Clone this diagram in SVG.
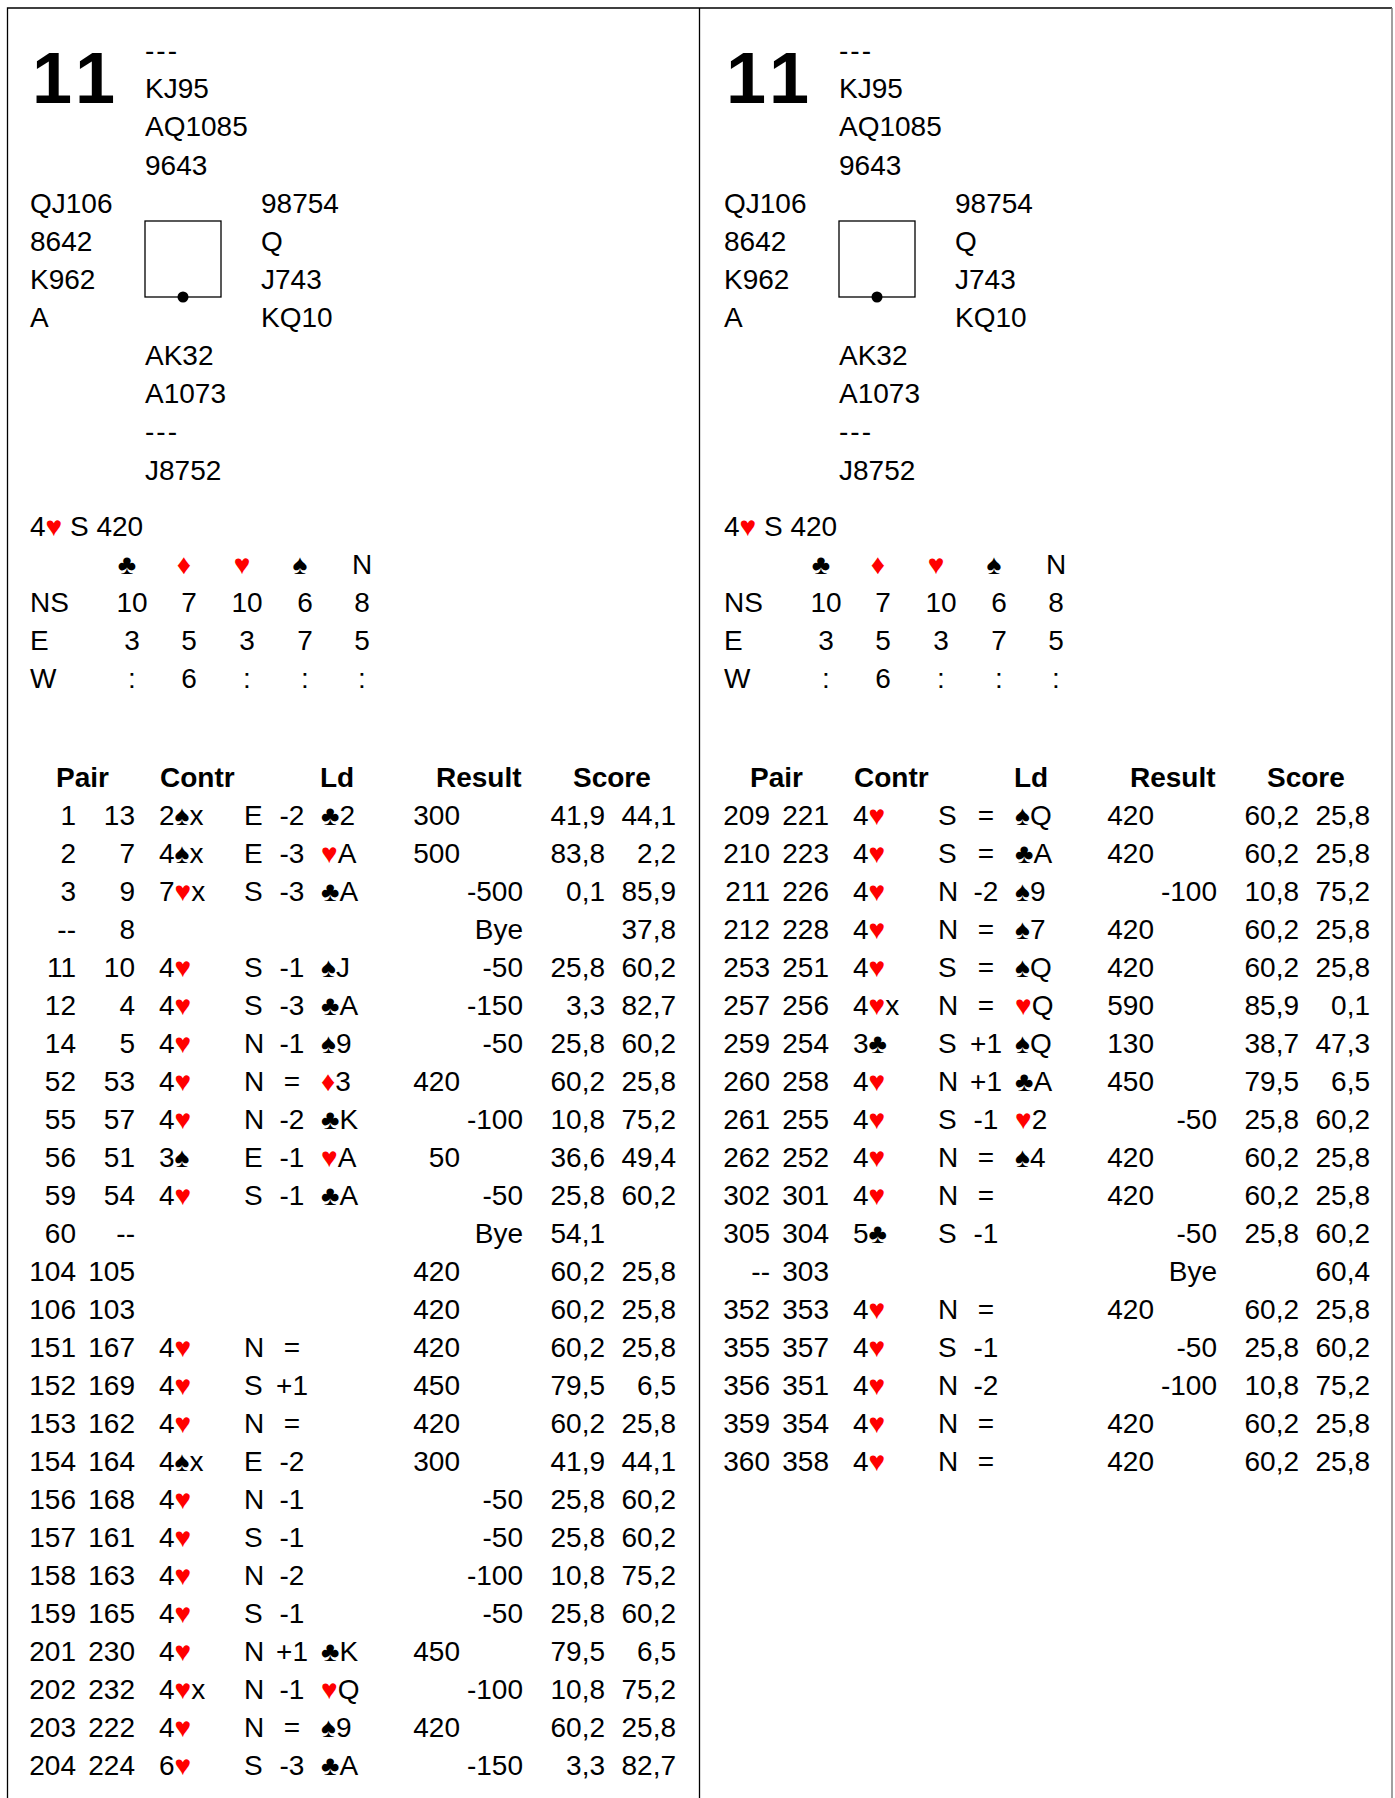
<svg xmlns="http://www.w3.org/2000/svg" width="1395" height="1798" viewBox="0 0 1395 1798">
<style>
text{font-family:"Liberation Sans",Arial,sans-serif;font-size:28px;fill:#000}
.big{font-size:72px;font-weight:bold;letter-spacing:7px}
.dash{letter-spacing:2px}
.hd{font-weight:bold}
.e{text-anchor:end}
.m{text-anchor:middle}
.red{fill:#ff0000}
.frame{stroke:#000;stroke-width:1.3;fill:none}
</style>
<rect width="1395" height="1798" fill="#fff"/>
<g id="frame">
<path class="frame" d="M7.5,1798 V8 H1392"/>
<line x1="1392" y1="8" x2="1392" y2="1798" stroke="#808080" stroke-width="1.5"/>
<line x1="699.5" y1="8" x2="699.5" y2="1798" stroke="#000" stroke-width="1.3"/>
</g>

<g id="deal-left">
<text class="big" x="32" y="103">11</text>
<text class="dash" x="145" y="60">---</text>
<text x="145" y="98">KJ95</text>
<text x="145" y="136">AQ1085</text>
<text x="145" y="175">9643</text>
<text x="30" y="213">QJ106</text>
<text x="30" y="251">8642</text>
<text x="30" y="289">K962</text>
<text x="30" y="327">A</text>
<text x="261" y="213">98754</text>
<text x="261" y="251">Q</text>
<text x="261" y="289">J743</text>
<text x="261" y="327">KQ10</text>
<rect x="145" y="221" width="76" height="76" fill="none" stroke="#000" stroke-width="1.3"/>
<circle cx="183" cy="297" r="5.5" fill="#000"/>
<text x="145" y="365">AK32</text>
<text x="145" y="403">A1073</text>
<text class="dash" x="145" y="441">---</text>
<text x="145" y="480">J8752</text>
<text x="30" y="536">4<tspan class="red">♥</tspan> S 420</text>
<text class="m" x="127" y="574">♣</text><text class="m red" x="184" y="574">♦</text><text class="m red" x="242" y="574">♥</text><text class="m" x="300" y="574">♠</text><text class="m" x="362" y="574">N</text>
<text x="30" y="612">NS</text><text class="m" x="132" y="612">10</text><text class="m" x="189" y="612">7</text><text class="m" x="247" y="612">10</text><text class="m" x="305" y="612">6</text><text class="m" x="362" y="612">8</text>
<text x="30" y="650">E</text><text class="m" x="132" y="650">3</text><text class="m" x="189" y="650">5</text><text class="m" x="247" y="650">3</text><text class="m" x="305" y="650">7</text><text class="m" x="362" y="650">5</text>
<text x="30" y="688">W</text><text class="m" x="132" y="688">:</text><text class="m" x="189" y="688">6</text><text class="m" x="247" y="688">:</text><text class="m" x="305" y="688">:</text><text class="m" x="362" y="688">:</text>
</g>

<g id="deal-right">
<text class="big" x="726" y="103">11</text>
<text class="dash" x="839" y="60">---</text>
<text x="839" y="98">KJ95</text>
<text x="839" y="136">AQ1085</text>
<text x="839" y="175">9643</text>
<text x="724" y="213">QJ106</text>
<text x="724" y="251">8642</text>
<text x="724" y="289">K962</text>
<text x="724" y="327">A</text>
<text x="955" y="213">98754</text>
<text x="955" y="251">Q</text>
<text x="955" y="289">J743</text>
<text x="955" y="327">KQ10</text>
<rect x="839" y="221" width="76" height="76" fill="none" stroke="#000" stroke-width="1.3"/>
<circle cx="877" cy="297" r="5.5" fill="#000"/>
<text x="839" y="365">AK32</text>
<text x="839" y="403">A1073</text>
<text class="dash" x="839" y="441">---</text>
<text x="839" y="480">J8752</text>
<text x="724" y="536">4<tspan class="red">♥</tspan> S 420</text>
<text class="m" x="821" y="574">♣</text><text class="m red" x="878" y="574">♦</text><text class="m red" x="936" y="574">♥</text><text class="m" x="994" y="574">♠</text><text class="m" x="1056" y="574">N</text>
<text x="724" y="612">NS</text><text class="m" x="826" y="612">10</text><text class="m" x="883" y="612">7</text><text class="m" x="941" y="612">10</text><text class="m" x="999" y="612">6</text><text class="m" x="1056" y="612">8</text>
<text x="724" y="650">E</text><text class="m" x="826" y="650">3</text><text class="m" x="883" y="650">5</text><text class="m" x="941" y="650">3</text><text class="m" x="999" y="650">7</text><text class="m" x="1056" y="650">5</text>
<text x="724" y="688">W</text><text class="m" x="826" y="688">:</text><text class="m" x="883" y="688">6</text><text class="m" x="941" y="688">:</text><text class="m" x="999" y="688">:</text><text class="m" x="1056" y="688">:</text>
</g>

<g id="table-left">
<text class="hd" x="56" y="787">Pair</text><text class="hd" x="160" y="787">Contr</text><text class="hd" x="320" y="787">Ld</text><text class="hd" x="436" y="787">Result</text><text class="hd" x="573" y="787">Score</text>
<text class="e" x="76" y="825">1</text><text class="e" x="135" y="825">13</text><text x="159" y="825">2♠x</text><text x="244" y="825">E</text><text class="m" x="292" y="825">-2</text><text x="321" y="825">♣2</text><text class="e" x="460" y="825">300</text><text class="e" x="605" y="825">41,9</text><text class="e" x="676" y="825">44,1</text>
<text class="e" x="76" y="863">2</text><text class="e" x="135" y="863">7</text><text x="159" y="863">4♠x</text><text x="244" y="863">E</text><text class="m" x="292" y="863">-3</text><text x="321" y="863"><tspan class="red">♥</tspan>A</text><text class="e" x="460" y="863">500</text><text class="e" x="605" y="863">83,8</text><text class="e" x="676" y="863">2,2</text>
<text class="e" x="76" y="901">3</text><text class="e" x="135" y="901">9</text><text x="159" y="901">7<tspan class="red">♥</tspan>x</text><text x="244" y="901">S</text><text class="m" x="292" y="901">-3</text><text x="321" y="901">♣A</text><text class="e" x="523" y="901">-500</text><text class="e" x="605" y="901">0,1</text><text class="e" x="676" y="901">85,9</text>
<text class="e" x="76" y="939">--</text><text class="e" x="135" y="939">8</text><text class="e" x="523" y="939">Bye</text><text class="e" x="676" y="939">37,8</text>
<text class="e" x="76" y="977">11</text><text class="e" x="135" y="977">10</text><text x="159" y="977">4<tspan class="red">♥</tspan></text><text x="244" y="977">S</text><text class="m" x="292" y="977">-1</text><text x="321" y="977">♠J</text><text class="e" x="523" y="977">-50</text><text class="e" x="605" y="977">25,8</text><text class="e" x="676" y="977">60,2</text>
<text class="e" x="76" y="1015">12</text><text class="e" x="135" y="1015">4</text><text x="159" y="1015">4<tspan class="red">♥</tspan></text><text x="244" y="1015">S</text><text class="m" x="292" y="1015">-3</text><text x="321" y="1015">♣A</text><text class="e" x="523" y="1015">-150</text><text class="e" x="605" y="1015">3,3</text><text class="e" x="676" y="1015">82,7</text>
<text class="e" x="76" y="1053">14</text><text class="e" x="135" y="1053">5</text><text x="159" y="1053">4<tspan class="red">♥</tspan></text><text x="244" y="1053">N</text><text class="m" x="292" y="1053">-1</text><text x="321" y="1053">♠9</text><text class="e" x="523" y="1053">-50</text><text class="e" x="605" y="1053">25,8</text><text class="e" x="676" y="1053">60,2</text>
<text class="e" x="76" y="1091">52</text><text class="e" x="135" y="1091">53</text><text x="159" y="1091">4<tspan class="red">♥</tspan></text><text x="244" y="1091">N</text><text class="m" x="292" y="1091">=</text><text x="321" y="1091"><tspan class="red">♦</tspan>3</text><text class="e" x="460" y="1091">420</text><text class="e" x="605" y="1091">60,2</text><text class="e" x="676" y="1091">25,8</text>
<text class="e" x="76" y="1129">55</text><text class="e" x="135" y="1129">57</text><text x="159" y="1129">4<tspan class="red">♥</tspan></text><text x="244" y="1129">N</text><text class="m" x="292" y="1129">-2</text><text x="321" y="1129">♣K</text><text class="e" x="523" y="1129">-100</text><text class="e" x="605" y="1129">10,8</text><text class="e" x="676" y="1129">75,2</text>
<text class="e" x="76" y="1167">56</text><text class="e" x="135" y="1167">51</text><text x="159" y="1167">3♠</text><text x="244" y="1167">E</text><text class="m" x="292" y="1167">-1</text><text x="321" y="1167"><tspan class="red">♥</tspan>A</text><text class="e" x="460" y="1167">50</text><text class="e" x="605" y="1167">36,6</text><text class="e" x="676" y="1167">49,4</text>
<text class="e" x="76" y="1205">59</text><text class="e" x="135" y="1205">54</text><text x="159" y="1205">4<tspan class="red">♥</tspan></text><text x="244" y="1205">S</text><text class="m" x="292" y="1205">-1</text><text x="321" y="1205">♣A</text><text class="e" x="523" y="1205">-50</text><text class="e" x="605" y="1205">25,8</text><text class="e" x="676" y="1205">60,2</text>
<text class="e" x="76" y="1243">60</text><text class="e" x="135" y="1243">--</text><text class="e" x="523" y="1243">Bye</text><text class="e" x="605" y="1243">54,1</text>
<text class="e" x="76" y="1281">104</text><text class="e" x="135" y="1281">105</text><text class="e" x="460" y="1281">420</text><text class="e" x="605" y="1281">60,2</text><text class="e" x="676" y="1281">25,8</text>
<text class="e" x="76" y="1319">106</text><text class="e" x="135" y="1319">103</text><text class="e" x="460" y="1319">420</text><text class="e" x="605" y="1319">60,2</text><text class="e" x="676" y="1319">25,8</text>
<text class="e" x="76" y="1357">151</text><text class="e" x="135" y="1357">167</text><text x="159" y="1357">4<tspan class="red">♥</tspan></text><text x="244" y="1357">N</text><text class="m" x="292" y="1357">=</text><text class="e" x="460" y="1357">420</text><text class="e" x="605" y="1357">60,2</text><text class="e" x="676" y="1357">25,8</text>
<text class="e" x="76" y="1395">152</text><text class="e" x="135" y="1395">169</text><text x="159" y="1395">4<tspan class="red">♥</tspan></text><text x="244" y="1395">S</text><text class="m" x="292" y="1395">+1</text><text class="e" x="460" y="1395">450</text><text class="e" x="605" y="1395">79,5</text><text class="e" x="676" y="1395">6,5</text>
<text class="e" x="76" y="1433">153</text><text class="e" x="135" y="1433">162</text><text x="159" y="1433">4<tspan class="red">♥</tspan></text><text x="244" y="1433">N</text><text class="m" x="292" y="1433">=</text><text class="e" x="460" y="1433">420</text><text class="e" x="605" y="1433">60,2</text><text class="e" x="676" y="1433">25,8</text>
<text class="e" x="76" y="1471">154</text><text class="e" x="135" y="1471">164</text><text x="159" y="1471">4♠x</text><text x="244" y="1471">E</text><text class="m" x="292" y="1471">-2</text><text class="e" x="460" y="1471">300</text><text class="e" x="605" y="1471">41,9</text><text class="e" x="676" y="1471">44,1</text>
<text class="e" x="76" y="1509">156</text><text class="e" x="135" y="1509">168</text><text x="159" y="1509">4<tspan class="red">♥</tspan></text><text x="244" y="1509">N</text><text class="m" x="292" y="1509">-1</text><text class="e" x="523" y="1509">-50</text><text class="e" x="605" y="1509">25,8</text><text class="e" x="676" y="1509">60,2</text>
<text class="e" x="76" y="1547">157</text><text class="e" x="135" y="1547">161</text><text x="159" y="1547">4<tspan class="red">♥</tspan></text><text x="244" y="1547">S</text><text class="m" x="292" y="1547">-1</text><text class="e" x="523" y="1547">-50</text><text class="e" x="605" y="1547">25,8</text><text class="e" x="676" y="1547">60,2</text>
<text class="e" x="76" y="1585">158</text><text class="e" x="135" y="1585">163</text><text x="159" y="1585">4<tspan class="red">♥</tspan></text><text x="244" y="1585">N</text><text class="m" x="292" y="1585">-2</text><text class="e" x="523" y="1585">-100</text><text class="e" x="605" y="1585">10,8</text><text class="e" x="676" y="1585">75,2</text>
<text class="e" x="76" y="1623">159</text><text class="e" x="135" y="1623">165</text><text x="159" y="1623">4<tspan class="red">♥</tspan></text><text x="244" y="1623">S</text><text class="m" x="292" y="1623">-1</text><text class="e" x="523" y="1623">-50</text><text class="e" x="605" y="1623">25,8</text><text class="e" x="676" y="1623">60,2</text>
<text class="e" x="76" y="1661">201</text><text class="e" x="135" y="1661">230</text><text x="159" y="1661">4<tspan class="red">♥</tspan></text><text x="244" y="1661">N</text><text class="m" x="292" y="1661">+1</text><text x="321" y="1661">♣K</text><text class="e" x="460" y="1661">450</text><text class="e" x="605" y="1661">79,5</text><text class="e" x="676" y="1661">6,5</text>
<text class="e" x="76" y="1699">202</text><text class="e" x="135" y="1699">232</text><text x="159" y="1699">4<tspan class="red">♥</tspan>x</text><text x="244" y="1699">N</text><text class="m" x="292" y="1699">-1</text><text x="321" y="1699"><tspan class="red">♥</tspan>Q</text><text class="e" x="523" y="1699">-100</text><text class="e" x="605" y="1699">10,8</text><text class="e" x="676" y="1699">75,2</text>
<text class="e" x="76" y="1737">203</text><text class="e" x="135" y="1737">222</text><text x="159" y="1737">4<tspan class="red">♥</tspan></text><text x="244" y="1737">N</text><text class="m" x="292" y="1737">=</text><text x="321" y="1737">♠9</text><text class="e" x="460" y="1737">420</text><text class="e" x="605" y="1737">60,2</text><text class="e" x="676" y="1737">25,8</text>
<text class="e" x="76" y="1775">204</text><text class="e" x="135" y="1775">224</text><text x="159" y="1775">6<tspan class="red">♥</tspan></text><text x="244" y="1775">S</text><text class="m" x="292" y="1775">-3</text><text x="321" y="1775">♣A</text><text class="e" x="523" y="1775">-150</text><text class="e" x="605" y="1775">3,3</text><text class="e" x="676" y="1775">82,7</text>
</g>

<g id="table-right">
<text class="hd" x="750" y="787">Pair</text><text class="hd" x="854" y="787">Contr</text><text class="hd" x="1014" y="787">Ld</text><text class="hd" x="1130" y="787">Result</text><text class="hd" x="1267" y="787">Score</text>
<text class="e" x="770" y="825">209</text><text class="e" x="829" y="825">221</text><text x="853" y="825">4<tspan class="red">♥</tspan></text><text x="938" y="825">S</text><text class="m" x="986" y="825">=</text><text x="1015" y="825">♠Q</text><text class="e" x="1154" y="825">420</text><text class="e" x="1299" y="825">60,2</text><text class="e" x="1370" y="825">25,8</text>
<text class="e" x="770" y="863">210</text><text class="e" x="829" y="863">223</text><text x="853" y="863">4<tspan class="red">♥</tspan></text><text x="938" y="863">S</text><text class="m" x="986" y="863">=</text><text x="1015" y="863">♣A</text><text class="e" x="1154" y="863">420</text><text class="e" x="1299" y="863">60,2</text><text class="e" x="1370" y="863">25,8</text>
<text class="e" x="770" y="901">211</text><text class="e" x="829" y="901">226</text><text x="853" y="901">4<tspan class="red">♥</tspan></text><text x="938" y="901">N</text><text class="m" x="986" y="901">-2</text><text x="1015" y="901">♠9</text><text class="e" x="1217" y="901">-100</text><text class="e" x="1299" y="901">10,8</text><text class="e" x="1370" y="901">75,2</text>
<text class="e" x="770" y="939">212</text><text class="e" x="829" y="939">228</text><text x="853" y="939">4<tspan class="red">♥</tspan></text><text x="938" y="939">N</text><text class="m" x="986" y="939">=</text><text x="1015" y="939">♠7</text><text class="e" x="1154" y="939">420</text><text class="e" x="1299" y="939">60,2</text><text class="e" x="1370" y="939">25,8</text>
<text class="e" x="770" y="977">253</text><text class="e" x="829" y="977">251</text><text x="853" y="977">4<tspan class="red">♥</tspan></text><text x="938" y="977">S</text><text class="m" x="986" y="977">=</text><text x="1015" y="977">♠Q</text><text class="e" x="1154" y="977">420</text><text class="e" x="1299" y="977">60,2</text><text class="e" x="1370" y="977">25,8</text>
<text class="e" x="770" y="1015">257</text><text class="e" x="829" y="1015">256</text><text x="853" y="1015">4<tspan class="red">♥</tspan>x</text><text x="938" y="1015">N</text><text class="m" x="986" y="1015">=</text><text x="1015" y="1015"><tspan class="red">♥</tspan>Q</text><text class="e" x="1154" y="1015">590</text><text class="e" x="1299" y="1015">85,9</text><text class="e" x="1370" y="1015">0,1</text>
<text class="e" x="770" y="1053">259</text><text class="e" x="829" y="1053">254</text><text x="853" y="1053">3♣</text><text x="938" y="1053">S</text><text class="m" x="986" y="1053">+1</text><text x="1015" y="1053">♠Q</text><text class="e" x="1154" y="1053">130</text><text class="e" x="1299" y="1053">38,7</text><text class="e" x="1370" y="1053">47,3</text>
<text class="e" x="770" y="1091">260</text><text class="e" x="829" y="1091">258</text><text x="853" y="1091">4<tspan class="red">♥</tspan></text><text x="938" y="1091">N</text><text class="m" x="986" y="1091">+1</text><text x="1015" y="1091">♣A</text><text class="e" x="1154" y="1091">450</text><text class="e" x="1299" y="1091">79,5</text><text class="e" x="1370" y="1091">6,5</text>
<text class="e" x="770" y="1129">261</text><text class="e" x="829" y="1129">255</text><text x="853" y="1129">4<tspan class="red">♥</tspan></text><text x="938" y="1129">S</text><text class="m" x="986" y="1129">-1</text><text x="1015" y="1129"><tspan class="red">♥</tspan>2</text><text class="e" x="1217" y="1129">-50</text><text class="e" x="1299" y="1129">25,8</text><text class="e" x="1370" y="1129">60,2</text>
<text class="e" x="770" y="1167">262</text><text class="e" x="829" y="1167">252</text><text x="853" y="1167">4<tspan class="red">♥</tspan></text><text x="938" y="1167">N</text><text class="m" x="986" y="1167">=</text><text x="1015" y="1167">♠4</text><text class="e" x="1154" y="1167">420</text><text class="e" x="1299" y="1167">60,2</text><text class="e" x="1370" y="1167">25,8</text>
<text class="e" x="770" y="1205">302</text><text class="e" x="829" y="1205">301</text><text x="853" y="1205">4<tspan class="red">♥</tspan></text><text x="938" y="1205">N</text><text class="m" x="986" y="1205">=</text><text class="e" x="1154" y="1205">420</text><text class="e" x="1299" y="1205">60,2</text><text class="e" x="1370" y="1205">25,8</text>
<text class="e" x="770" y="1243">305</text><text class="e" x="829" y="1243">304</text><text x="853" y="1243">5♣</text><text x="938" y="1243">S</text><text class="m" x="986" y="1243">-1</text><text class="e" x="1217" y="1243">-50</text><text class="e" x="1299" y="1243">25,8</text><text class="e" x="1370" y="1243">60,2</text>
<text class="e" x="770" y="1281">--</text><text class="e" x="829" y="1281">303</text><text class="e" x="1217" y="1281">Bye</text><text class="e" x="1370" y="1281">60,4</text>
<text class="e" x="770" y="1319">352</text><text class="e" x="829" y="1319">353</text><text x="853" y="1319">4<tspan class="red">♥</tspan></text><text x="938" y="1319">N</text><text class="m" x="986" y="1319">=</text><text class="e" x="1154" y="1319">420</text><text class="e" x="1299" y="1319">60,2</text><text class="e" x="1370" y="1319">25,8</text>
<text class="e" x="770" y="1357">355</text><text class="e" x="829" y="1357">357</text><text x="853" y="1357">4<tspan class="red">♥</tspan></text><text x="938" y="1357">S</text><text class="m" x="986" y="1357">-1</text><text class="e" x="1217" y="1357">-50</text><text class="e" x="1299" y="1357">25,8</text><text class="e" x="1370" y="1357">60,2</text>
<text class="e" x="770" y="1395">356</text><text class="e" x="829" y="1395">351</text><text x="853" y="1395">4<tspan class="red">♥</tspan></text><text x="938" y="1395">N</text><text class="m" x="986" y="1395">-2</text><text class="e" x="1217" y="1395">-100</text><text class="e" x="1299" y="1395">10,8</text><text class="e" x="1370" y="1395">75,2</text>
<text class="e" x="770" y="1433">359</text><text class="e" x="829" y="1433">354</text><text x="853" y="1433">4<tspan class="red">♥</tspan></text><text x="938" y="1433">N</text><text class="m" x="986" y="1433">=</text><text class="e" x="1154" y="1433">420</text><text class="e" x="1299" y="1433">60,2</text><text class="e" x="1370" y="1433">25,8</text>
<text class="e" x="770" y="1471">360</text><text class="e" x="829" y="1471">358</text><text x="853" y="1471">4<tspan class="red">♥</tspan></text><text x="938" y="1471">N</text><text class="m" x="986" y="1471">=</text><text class="e" x="1154" y="1471">420</text><text class="e" x="1299" y="1471">60,2</text><text class="e" x="1370" y="1471">25,8</text>
</g>
</svg>
